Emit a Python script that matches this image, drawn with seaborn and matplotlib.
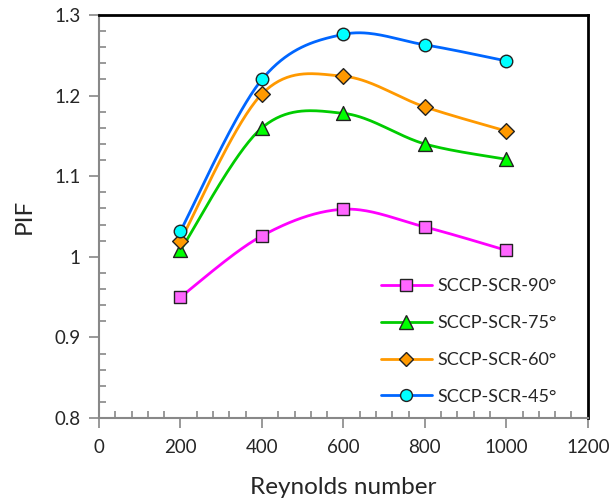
import numpy as np
import pandas as pd
import matplotlib
matplotlib.use("Agg")
import matplotlib.pyplot as plt
from matplotlib.lines import Line2D
from matplotlib.ticker import MultipleLocator
import seaborn as sns

reynolds = [200, 400, 600, 800, 1000]
pif_90 = [0.950, 1.026, 1.059, 1.037, 1.008]
pif_75 = [1.008, 1.160, 1.178, 1.140, 1.121]
pif_60 = [1.020, 1.202, 1.224, 1.186, 1.156]
pif_45 = [1.032, 1.220, 1.276, 1.263, 1.243]

labels = ["SCCP-SCR-90°", "SCCP-SCR-75°", "SCCP-SCR-60°", "SCCP-SCR-45°"]
series = [pif_90, pif_75, pif_60, pif_45]
line_colors = ["#FF00FF", "#00CC00", "#FF9900", "#0066FF"]
face_colors = ["#FF66FF", "#00FF00", "#FF9900", "#00FFFF"]
markers = ["s", "^", "D", "o"]
msizes = [9, 10, 8, 9]

df = pd.DataFrame({
    "Re": reynolds * 4,
    "PIF": pif_90 + pif_75 + pif_60 + pif_45,
    "case": sum([[l] * len(reynolds) for l in labels], []),
})


def smooth(x, y, n=40):
    # excel-style smoothed line (catmull-rom bezier through the points)
    p = np.column_stack([x, y]).astype(float)
    p = np.vstack([p[0], p, p[-1]])
    out = []
    t = np.linspace(0, 1, n)[:, None]
    for i in range(1, len(p) - 2):
        p0, p3 = p[i], p[i + 1]
        c1 = p[i] + (p[i + 1] - p[i - 1]) / 6
        c2 = p[i + 1] - (p[i + 2] - p[i]) / 6
        seg = ((1 - t) ** 3) * p0 + 3 * ((1 - t) ** 2) * t * c1 + 3 * (1 - t) * t ** 2 * c2 + t ** 3 * p3
        out.append(seg)
    out = np.vstack(out)
    return out[:, 0], out[:, 1]


sns.set_style("white")
plt.rcParams["font.family"] = ["Lato", "DejaVu Sans"]

fig = plt.figure(figsize=(6.11, 5.0), dpi=100)
ax = fig.add_axes([0.162, 0.164, 0.8, 0.806])

for lab, ys, lc in zip(labels, series, line_colors):
    sx, sy = smooth(reynolds, ys)
    ax.plot(sx, sy, color=lc, lw=2, zorder=2)

for i, lab in enumerate(labels):
    sub = df[df["case"] == lab]
    sns.scatterplot(data=sub, x="Re", y="PIF", ax=ax, marker=markers[i],
                    color=face_colors[i], edgecolor="#222222", linewidth=1,
                    s=msizes[i] ** 2, zorder=3, legend=False)

ax.set_xlim(0, 1200)
ax.set_ylim(0.8, 1.3)
ax.xaxis.set_major_locator(MultipleLocator(200))
ax.xaxis.set_minor_locator(MultipleLocator(40))
ax.yaxis.set_major_locator(MultipleLocator(0.1))
ax.yaxis.set_minor_locator(MultipleLocator(0.02))
ax.set_yticks([0.8, 0.9, 1.0, 1.1, 1.2, 1.3])
ax.set_yticklabels(["0.8", "0.9", "1", "1.1", "1.2", "1.3"])

ax.tick_params(axis="both", which="major", direction="out", length=7, width=1.2,
               color="#888888", labelsize=13.5)
ax.tick_params(axis="x", which="major", pad=8)
ax.tick_params(axis="y", which="major", pad=6)
ax.tick_params(axis="both", which="minor", direction="in", length=5, width=1.2,
               color="#888888")
ax.tick_params(axis="x", which="both", bottom=True)
ax.tick_params(axis="y", which="both", left=True)

for side in ["left", "bottom"]:
    ax.spines[side].set_color("#888888")
    ax.spines[side].set_linewidth(1.5)
for side in ["top", "right"]:
    ax.spines[side].set_color("black")
    ax.spines[side].set_linewidth(2)

ax.set_xlabel("Reynolds number", fontsize=17.5, labelpad=15)
ax.set_ylabel("PIF", fontsize=17.5, labelpad=14)

handles = [Line2D([0], [0], color=lc, lw=2, marker=m, markersize=ms * 0.95,
                  markerfacecolor=fc, markeredgecolor="#222222")
           for lc, fc, m, ms in zip(line_colors, face_colors, markers, msizes)]
ax.legend(handles, labels, loc="lower left", bbox_to_anchor=(0.577, 0.033),
          borderaxespad=0, borderpad=0, frameon=False, fontsize=13,
          handlelength=2.8, labelspacing=1.15, handletextpad=0.3)

fig.savefig("out.png", dpi=100)
